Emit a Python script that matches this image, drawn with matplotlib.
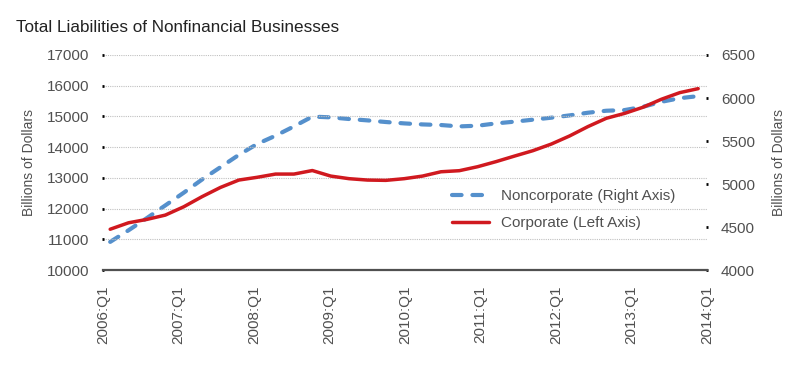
import matplotlib
matplotlib.use('Agg')
import matplotlib.pyplot as plt
import numpy as np

# quarterly data 2006:Q1 .. 2014:Q1
corporate = [11330, 11540, 11650, 11790, 12060, 12390, 12690, 12930, 13020, 13125,
             13125, 13240, 13060, 12975, 12930, 12920, 12975, 13060, 13200, 13235,
             13365, 13530, 13710, 13885, 14100, 14365, 14670, 14940, 15100, 15300,
             15560, 15775, 15905]
noncorporate = [4328, 4463, 4605, 4752, 4899, 5053, 5196, 5339, 5466, 5562,
                5670, 5784, 5775, 5756, 5740, 5721, 5705, 5693, 5686, 5670,
                5678, 5705, 5725, 5748, 5771, 5798, 5829, 5852, 5860, 5898,
                5956, 5998, 6022]
tick_labels = ['2006:Q1', '2007:Q1', '2008:Q1', '2009:Q1', '2010:Q1',
               '2011:Q1', '2012:Q1', '2013:Q1', '2014:Q1']
left_ticks = [10000, 11000, 12000, 13000, 14000, 15000, 16000, 17000]
right_ticks = [4000, 4500, 5000, 5500, 6000, 6500]

plt.rcParams['font.family'] = ['Liberation Sans', 'DejaVu Sans']
grey = '#505050'

fig = plt.figure(figsize=(8, 3.69), dpi=100)
ax = fig.add_axes([0.129, 0.268, 0.755, 0.583])
ax2 = ax.twinx()

x = np.arange(len(corporate))
xlim = (-0.38, 32.49)

red, = ax.plot(x, corporate, color='#d0191f', linewidth=2.5,
               solid_capstyle='round', label='Corporate (Left Axis)')
blue, = ax2.plot(x, noncorporate, color='#5590cc', linewidth=3,
                 dashes=(2.3, 2.6), dash_capstyle='round',
                 label='Noncorporate (Right Axis)')

# rouge au-dessus
ax.set_zorder(ax2.get_zorder() + 1)
ax.patch.set_visible(False)

ax.set_xlim(xlim)
ax.set_ylim(10000, 17000)
ax2.set_ylim(4000, 6500)

ax.set_xticks(np.linspace(xlim[0], xlim[1], 9))
ax.set_xticklabels(tick_labels, rotation=90, fontsize=11, color=grey)
ax.tick_params(axis='x', length=0, pad=11)

ax.set_yticks(left_ticks)
ax.set_yticklabels([str(v) for v in left_ticks], fontsize=11, color=grey)
ax.tick_params(axis='y', length=2, width=2, color='black', pad=9,
               direction='inout')
ax2.set_yticks(right_ticks)
ax2.set_yticklabels([str(v) for v in right_ticks], fontsize=11, color=grey)
ax2.tick_params(axis='y', length=2, width=2, color='black', pad=9,
                direction='inout')

ax.grid(axis='y', linestyle=(0, (1, 1)), color='#c0c0c0', linewidth=0.8)
ax.set_axisbelow(True)

for a in (ax, ax2):
    for s in ('top', 'left', 'right', 'bottom'):
        a.spines[s].set_visible(False)
ax.spines['bottom'].set_visible(True)
ax.spines['bottom'].set_color(grey)
ax.spines['bottom'].set_linewidth(1.6)

ax.set_ylabel('Billions of Dollars', fontsize=10, color=grey, labelpad=8)
ax2.set_ylabel('Billions of Dollars', fontsize=10, color=grey, labelpad=12)

leg = ax.legend(handles=[blue, red], loc='upper left',
                bbox_to_anchor=(0.555, 0.44), frameon=False, fontsize=11,
                labelcolor=grey, handlelength=2.4, handletextpad=0.8,
                labelspacing=0.85)

fig.text(0.02, 0.925, 'Total Liabilities of Nonfinancial Businesses',
         fontsize=12.3, color='#222222', va='center', ha='left')

fig.savefig('out.png', dpi=100)
